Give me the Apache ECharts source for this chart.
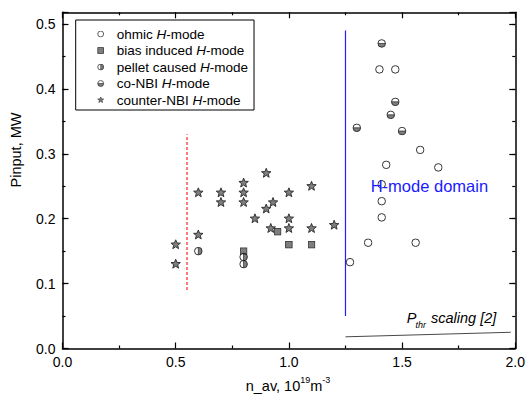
<!DOCTYPE html>
<html>
<head>
<meta charset="utf-8">
<script src="https://cdn.jsdelivr.net/npm/echarts@6/dist/echarts.min.js"></script>
<style>html,body{margin:0;padding:0;background:#fff}#c{width:528px;height:401px}</style>
</head>
<body>
<div id="c"></div>
<script>
// ---- data ----
const ohmicX = [1.27, 1.35, 1.56, 1.41, 1.41, 1.41, 1.40, 1.47, 1.58, 1.43, 1.66];
const ohmicY = [0.133, 0.163, 0.163, 0.202, 0.227, 0.253, 0.43, 0.43, 0.306, 0.283, 0.279];
const biasX = [0.8, 0.95, 1.0, 1.1];
const biasY = [0.15, 0.18, 0.16, 0.16];
const pelletX = [0.6, 0.8, 0.8];
const pelletY = [0.15, 0.141, 0.13];
const coX = [1.41, 1.47, 1.45, 1.30, 1.50];
const coY = [0.47, 0.38, 0.36, 0.34, 0.335];
const ctrX = [0.5, 0.5, 0.6, 0.6, 0.7, 0.7, 0.8, 0.8, 0.8, 0.85, 0.9, 0.9, 0.93, 0.92, 1.0, 1.0, 1.0, 1.1, 1.1, 1.2];
const ctrY = [0.16, 0.13, 0.24, 0.175, 0.24, 0.225, 0.255, 0.24, 0.225, 0.2, 0.27, 0.215, 0.225, 0.185, 0.24, 0.2, 0.185, 0.25, 0.185, 0.19];
const lowLimX = [0.55, 0.55];
const lowLimY = [0.09, 0.33];
const domainX = [1.25, 1.25];
const domainY = [0.05, 0.49];
const pthrX = [1.25, 1.98];
const pthrY = [0.018, 0.025];
const seriesNames = ['ohmic H-mode', 'bias induced H-mode', 'pellet caused H-mode', 'co-NBI H-mode', 'counter-NBI H-mode'];
const xTicks = [0, 0.5, 1.0, 1.5, 2.0];
const yTicks = [0, 0.1, 0.2, 0.3, 0.4, 0.5];

// ---- symbols ----
const G = '#5f5f5f';
function svgUri(body) {
  return 'image://data:image/svg+xml;charset=utf-8,' + encodeURIComponent(
    '<svg xmlns="http://www.w3.org/2000/svg" width="20" height="20" viewBox="0 0 20 20">' + body + '</svg>');
}
const symCircle = svgUri('<circle cx="10" cy="10" r="8.4" fill="#fff" stroke="#000" stroke-width="2.2"/>');
const symSquare = svgUri('<rect x="1.8" y="1.8" width="16.4" height="16.4" fill="' + G + '" stroke="#000" stroke-width="2.2"/>');
const symPellet = svgUri('<circle cx="10" cy="10" r="8.4" fill="#fff"/><path d="M10 1.6 A8.4 8.4 0 0 1 10 18.4 Z" fill="' + G + '"/><path d="M10 1.6 V18.4" stroke="#000" stroke-width="1.8"/><circle cx="10" cy="10" r="8.4" fill="none" stroke="#000" stroke-width="2.2"/>');
const symCo = svgUri('<circle cx="10" cy="10" r="8.4" fill="#fff"/><path d="M1.6 10 A8.4 8.4 0 0 0 18.4 10 Z" fill="' + G + '"/><path d="M1.6 10 H18.4" stroke="#000" stroke-width="1.8"/><circle cx="10" cy="10" r="8.4" fill="none" stroke="#000" stroke-width="2.2"/>');
const symStar = svgUri('<path d="M10 1 L12.23 6.93 L18.56 7.22 L13.61 11.17 L15.29 17.28 L10 13.8 L4.71 17.28 L6.39 11.17 L1.44 7.22 L7.77 6.93 Z" fill="' + G + '" stroke="#000" stroke-width="1.8" stroke-linejoin="miter"/>');

function zip(xs, ys) { return xs.map((x, i) => [x, ys[i]]); }

const FONT = 'Liberation Sans, Arial, sans-serif';
const chart = echarts.init(document.getElementById('c'), null, { renderer: 'svg' });

const axisLineStyle = { color: '#000', width: 1.5 };
const tickStyle = { color: '#000', width: 1.2 };

function xAx(pos, labels) {
  return {
    type: 'value', position: pos, min: 0, max: 2, interval: 0.5,
    axisLine: { show: true, onZero: false, lineStyle: axisLineStyle },
    axisTick: { show: true, inside: true, length: 6, lineStyle: tickStyle },
    minorTick: { show: true, splitNumber: 2, length: 3, lineStyle: tickStyle },
    axisLabel: { show: labels, fontSize: 14, color: '#000', fontFamily: FONT, margin: 6,
      formatter: v => xTicks.some(t => Math.abs(t - v) < 1e-9) ? v.toFixed(1) : '' },
    splitLine: { show: false }
  };
}
function yAx(pos, major, labels) {
  return {
    type: 'value', position: pos, min: 0, max: 0.518, interval: major ? 0.1 : 0.05,
    axisLine: { show: major, onZero: false, lineStyle: axisLineStyle },
    axisTick: { show: true, inside: true, length: major ? 6 : 3, lineStyle: tickStyle },
    axisLabel: { show: labels, fontSize: 14, color: '#000', fontFamily: FONT, margin: 7,
      formatter: v => yTicks.some(t => Math.abs(t - v) < 1e-9) ? v.toFixed(1) : '' },
    splitLine: { show: false }
  };
}

const scat = (name, xs, ys, sym, size) => ({
  name, type: 'scatter', xAxisIndex: 0, yAxisIndex: 0,
  data: zip(xs, ys), symbol: sym, symbolSize: size, z: 5, silent: true
});
const line = (xs, ys, style) => ({
  type: 'line', xAxisIndex: 0, yAxisIndex: 0, data: zip(xs, ys),
  symbol: 'none', lineStyle: style, silent: true, z: 3
});

chart.setOption({
  animation: false,
  backgroundColor: '#fff',
  grid: { left: 62.5, top: 12.3, right: 9.5, bottom: 52.5, containLabel: false },
  xAxis: [xAx('bottom', true), xAx('top', false)],
  yAxis: [yAx('left', true, true), yAx('left', false, false), yAx('right', true, false), yAx('right', false, false)],
  legend: {
    orient: 'vertical', left: 75.7, top: 20,
    padding: [7, 6, 3, 14],
    itemWidth: 22, itemHeight: 7, itemGap: 2.5,
    borderColor: '#000', borderWidth: 1,
    selectedMode: false,
    data: [
      { name: seriesNames[0], icon: symCircle },
      { name: seriesNames[1], icon: symSquare },
      { name: seriesNames[2], icon: symPellet },
      { name: seriesNames[3], icon: symCo },
      { name: seriesNames[4], icon: symStar }
    ],
    formatter: n => n.replace('H-mode', '{i|H}-mode'),
    textStyle: { fontSize: 13.5, color: '#000', fontFamily: FONT, lineHeight: 14,
      rich: { i: { fontSize: 13.5, fontStyle: 'italic', color: '#000', fontFamily: FONT, lineHeight: 14 } } }
  },
  series: [
    line(lowLimX, lowLimY, { color: '#ff2020', width: 1.2, type: [3, 2] }),
    line(domainX, domainY, { color: '#2020ff', width: 1.2 }),
    line(pthrX, pthrY, { color: '#333', width: 0.9 }),
    scat(seriesNames[0], ohmicX, ohmicY, symCircle, 9),
    scat(seriesNames[1], biasX, biasY, symSquare, 8),
    scat(seriesNames[2], pelletX, pelletY, symPellet, 9),
    scat(seriesNames[3], coX, coY, symCo, 9),
    scat(seriesNames[4], ctrX, ctrY, symStar, 11)
  ],
  graphic: [
    { type: 'text', x: 16, y: 150, rotation: Math.PI / 2, silent: true,
      style: { text: 'Pinput, MW', fontSize: 14.5, fontFamily: FONT, fill: '#000', align: 'center', verticalAlign: 'middle' } },
    { type: 'text', x: 288, y: 386, silent: true,
      style: { text: 'n_av, 10{s|19}m{s|-3}', fontSize: 14.5, fontFamily: FONT, fill: '#000', lineHeight: 22,
        align: 'center', verticalAlign: 'middle',
        rich: { s: { fontSize: 9, fontFamily: FONT, fill: '#000', verticalAlign: 'top' } } } },
    { type: 'text', x: 370.7, y: 186.2, silent: true, z: 10,
      style: { text: 'H-mode domain', fontSize: 16.5, fontFamily: FONT, fill: '#1a1aff', align: 'left', verticalAlign: 'middle' } },
    { type: 'text', x: 406.7, y: 317.5, silent: true,
      style: { text: 'P', fontSize: 14.5, fontStyle: 'italic', fontFamily: FONT, fill: '#000', align: 'left', verticalAlign: 'middle' } },
    { type: 'text', x: 415.5, y: 325.4, silent: true,
      style: { text: 'thr', fontSize: 9, fontStyle: 'italic', fontFamily: FONT, fill: '#000', align: 'left', verticalAlign: 'middle' } },
    { type: 'text', x: 431, y: 317.5, silent: true,
      style: { text: 'scaling [2]', fontSize: 14.5, fontStyle: 'italic', fontFamily: FONT, fill: '#000', align: 'left', verticalAlign: 'middle' } }
  ]
});
</script>
</body>
</html>
